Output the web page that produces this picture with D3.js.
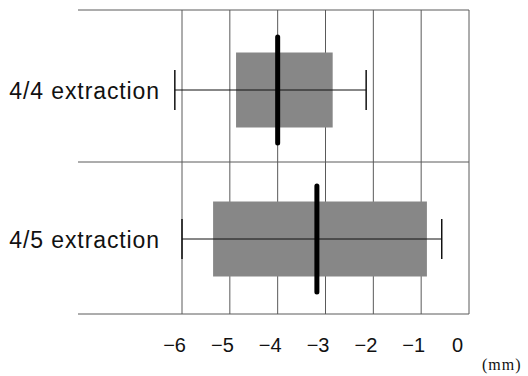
<!DOCTYPE html>
<html>
<head>
<meta charset="utf-8">
<script src="https://cdn.jsdelivr.net/npm/d3@7"></script>
<style>
  body { margin: 0; background: #fff; }
  svg { display: block; }
</style>
</head>
<body>
<div id="chart"></div>
<script>
// data (mm)
const groups = ['4/4 extraction', '4/5 extraction'];
const whiskerLow = [-6.15, -6.0];
const q1 = [-4.87, -5.35];
const median = [-4.0, -3.18];
const q3 = [-2.85, -0.88];
const whiskerHigh = [-2.15, -0.57];
const ticks = [-6, -5, -4, -3, -2, -1, 0];

const width = 528, height = 376;

const svg = d3.select('#chart').append('svg')
  .attr('width', width)
  .attr('height', height);

const x = d3.scaleLinear().domain([-6, 0]).range([182, 469]);
const band = d3.scaleBand().domain(groups).range([10, 314]);
const yc = d3.scalePoint().domain(groups).range([90, 239]);

const gridColor = '#5a5a5a';

// vertical grid lines
svg.append('g').selectAll('line')
  .data(ticks)
  .enter().append('line')
  .attr('x1', d => x(d)).attr('x2', d => x(d))
  .attr('y1', band.range()[0]).attr('y2', band.range()[1])
  .style('stroke', gridColor)
  .style('stroke-width', 1);

// horizontal lines: band edges
const edges = groups.map(g => band(g)).concat([band.range()[1]]);
svg.append('g').selectAll('line')
  .data(edges)
  .enter().append('line')
  .attr('x1', 78).attr('x2', x(0))
  .attr('y1', d => d).attr('y2', d => d)
  .style('stroke', gridColor)
  .style('stroke-width', 1);

const rows = svg.selectAll('.row')
  .data(groups)
  .enter().append('g')
  .attr('class', 'row')
  .attr('transform', d => 'translate(0,' + yc(d) + ')');

// boxes
rows.append('rect')
  .attr('x', (d, i) => x(q1[i]))
  .attr('width', (d, i) => x(q3[i]) - x(q1[i]))
  .attr('y', -37.5)
  .attr('height', 75)
  .style('fill', '#878787');

// whisker line
rows.append('line')
  .attr('x1', (d, i) => x(whiskerLow[i]))
  .attr('x2', (d, i) => x(whiskerHigh[i]))
  .attr('y1', 0).attr('y2', 0)
  .style('stroke', '#111')
  .style('stroke-width', 1);

// whisker caps
[whiskerLow, whiskerHigh].forEach(arr => {
  rows.append('line')
    .attr('x1', (d, i) => x(arr[i]))
    .attr('x2', (d, i) => x(arr[i]))
    .attr('y1', -20).attr('y2', 20)
    .style('stroke', '#111')
    .style('stroke-width', 1.5);
});

// median
rows.append('line')
  .attr('x1', (d, i) => x(median[i]))
  .attr('x2', (d, i) => x(median[i]))
  .attr('y1', -53).attr('y2', 53)
  .style('stroke', '#000')
  .style('stroke-width', 5)
  .style('stroke-linecap', 'round');

// row labels
rows.append('text')
  .attr('x', 160)
  .attr('y', 9)
  .attr('text-anchor', 'end')
  .style('font-family', '"Liberation Sans", Arial, sans-serif')
  .style('font-size', '23px')
  .style('letter-spacing', '0.9px')
  .style('fill', '#111')
  .text(d => d);

// tick labels
svg.append('g').selectAll('text')
  .data(ticks)
  .enter().append('text')
  .attr('x', d => d === 0 ? x(d) - 6 : x(d) + 4)
  .attr('y', 352)
  .attr('text-anchor', 'end')
  .style('font-family', '"Liberation Sans", Arial, sans-serif')
  .style('font-size', '20px')
  .style('fill', '#111')
  .text(d => d < 0 ? '\u2212' + Math.abs(d) : String(d));

// unit
svg.append('text')
  .attr('x', 482)
  .attr('y', 370)
  .style('font-family', '"Liberation Serif", "Times New Roman", serif')
  .style('font-size', '16px')
  .style('letter-spacing', '1px')
  .style('fill', '#111')
  .text('(mm)');
</script>
</body>
</html>
